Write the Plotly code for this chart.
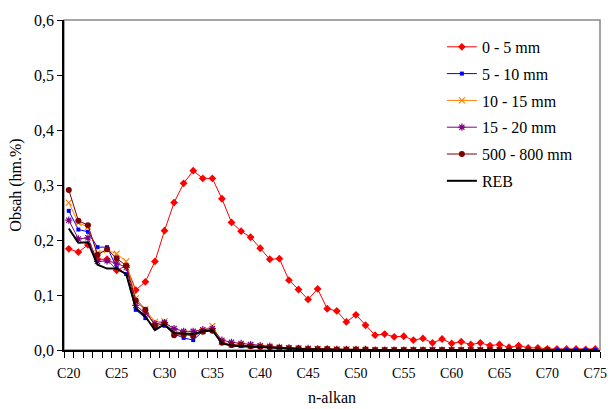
import plotly.graph_objects as go

categories = ["C%d" % n for n in range(20, 76)]
label_categories = ["C%d" % n for n in range(20, 76, 5)]

s_0_5 = [0.184, 0.178, 0.191, 0.165, 0.165, 0.145, 0.153, 0.109, 0.124, 0.161,
         0.217, 0.268, 0.303, 0.326, 0.312, 0.312, 0.275, 0.232, 0.216, 0.205,
         0.185, 0.165, 0.166, 0.127, 0.110, 0.092, 0.111, 0.075, 0.071, 0.051,
         0.064, 0.045, 0.027, 0.029, 0.024, 0.025, 0.018, 0.021, 0.013, 0.020,
         0.012, 0.015, 0.010, 0.013, 0.008, 0.010, 0.005, 0.008, 0.004, 0.004,
         0.002, 0.002, 0.002, 0.002, 0.001, 0.002]
s_5_10 = [0.253, 0.219, 0.215, 0.187, 0.187, 0.150, 0.138, 0.073, 0.058, 0.040,
          0.044, 0.029, 0.022, 0.018, 0.034, 0.036, 0.013, 0.008, 0.007, 0.006,
          0.005, 0.004, 0.003, 0.002, 0.002, 0.001, 0.001, 0.001, 0.0, 0.0,
          0.0, 0.0, 0.0, 0.0, 0.0, 0.0, 0.0, 0.0, 0.0, 0.0,
          0.0, 0.0, 0.0, 0.0, 0.0, 0.0, 0.0, 0.0, 0.0, 0.0,
          0.0, 0.0, 0.0, 0.0, 0.0, 0.0]
s_10_15 = [0.268, 0.231, 0.224, 0.176, 0.182, 0.175, 0.161, 0.094, 0.074, 0.051,
           0.052, 0.035, 0.030, 0.028, 0.035, 0.044, 0.015, 0.010, 0.009, 0.008,
           0.006, 0.005, 0.004, 0.003, 0.003, 0.002, 0.002, 0.001, 0.001, 0.001,
           0.001, 0.0, 0.0, 0.0, 0.0, 0.0, 0.0, 0.0, 0.0, 0.0,
           0.0, 0.0, 0.0, 0.0, 0.0, 0.0, 0.0, 0.0, 0.0, 0.0, 0.0]
s_15_20 = [0.236, 0.202, 0.204, 0.161, 0.162, 0.158, 0.150, 0.081, 0.067, 0.048,
           0.050, 0.039, 0.034, 0.034, 0.037, 0.039, 0.018, 0.014, 0.012, 0.010,
           0.008, 0.007, 0.005, 0.004, 0.003, 0.003, 0.002, 0.002, 0.001, 0.001,
           0.001, 0.001, 0.0, 0.0, 0.0, 0.0, 0.0, 0.0, 0.0, 0.0,
           0.0, 0.0, 0.0, 0.0, 0.0, 0.0, 0.0, 0.0, 0.0, 0.0, 0.0]
s_500_800 = [0.291, 0.235, 0.227, 0.173, 0.183, 0.167, 0.153, 0.090, 0.073, 0.044,
             0.048, 0.027, 0.028, 0.026, 0.033, 0.035, 0.013, 0.009, 0.009, 0.007,
             0.006, 0.005, 0.004, 0.003, 0.003, 0.002, 0.002, 0.002, 0.001, 0.001,
             0.001, 0.001, 0.0, 0.0, 0.0, 0.0, 0.0, 0.0, 0.0, 0.0,
             0.0, 0.0, 0.0, 0.0, 0.0, 0.0, 0.0, 0.0, 0.0, 0.0, 0.0]
s_reb = [0.221, 0.195, 0.196, 0.155, 0.148, 0.148, 0.138, 0.076, 0.061, 0.036,
         0.047, 0.031, 0.030, 0.029, 0.034, 0.036, 0.012, 0.008, 0.007, 0.006,
         0.005, 0.004, 0.003, 0.002, 0.002, 0.001, 0.001, 0.0, 0.0, 0.0,
         0.0, 0.0, 0.0, 0.0, 0.0, 0.0, 0.0, 0.0, 0.0, 0.0,
         0.0, 0.0, 0.0, 0.0, 0.0, 0.0, 0.0, 0.0, 0.0, 0.0,
         0.0, 0.0, 0.0, 0.0, 0.0, 0.0]

series = [
    ("0 - 5 mm", s_0_5, "#FF0000", dict(symbol="diamond", size=6, color="#FF0000"), 1),
    ("5 - 10 mm", s_5_10, "#0000FF", dict(symbol="square", size=4, color="#0000FF"), 1),
    ("10 - 15 mm", s_10_15, "#FF8000", dict(symbol="x-thin-open", size=6, color="#FF8000",
                                             line=dict(color="#FF8000", width=1.2)), 1),
    ("15 - 20 mm", s_15_20, "#800080", dict(symbol="asterisk-open", size=6, color="#800080",
                                             line=dict(color="#800080", width=1.2)), 1),
    ("500 - 800 mm", s_500_800, "#800000", dict(symbol="circle", size=6, color="#800000"), 1),
    ("REB", s_reb, "#000000", None, 2),
]

# categories are placed at their index on a linear axis
cat_pos = {c: i for i, c in enumerate(categories)}

FONT = "'Liberation Serif', 'Times New Roman', 'DejaVu Serif', serif"
fig = go.Figure()
for i, (name, vals, col, mk, w) in enumerate(series):
    fig.add_trace(go.Scatter(
        x=[cat_pos[c] for c in categories[:len(vals)]], y=vals, name=name,
        customdata=categories[:len(vals)],
        hovertemplate="%{customdata}: %{y}<extra>" + name + "</extra>",
        mode="lines+markers" if mk else "lines",
        line=dict(color=col, width=w),
        marker=mk if mk else None,
        legendgroup="g%d" % i,
    ))

fig.update_layout(
    width=612, height=409,
    margin=dict(l=64, r=12, t=20, b=59, autoexpand=False),
    paper_bgcolor="white", plot_bgcolor="white",
    separators=", ",
    font=dict(family=FONT, size=16, color="black"),
    showlegend=True,
    legend=dict(x=0.705, y=0.97, xanchor="left", yanchor="top",
                bgcolor="rgba(0,0,0,0)", font=dict(family=FONT, size=16),
                tracegroupgap=3, itemwidth=30),
    xaxis=dict(
        tickmode="array", tickvals=[cat_pos[c] for c in label_categories],
        ticktext=label_categories,
        ticks="outside", ticklen=9, tickcolor="rgba(0,0,0,0)",
        minor=dict(tick0=-0.5, dtick=1, ticks="outside", ticklen=6,
                   tickcolor="black", showgrid=False),
        tickangle=0, automargin=False,
        showline=True, linecolor="black", linewidth=1.5,
        showgrid=False, zeroline=False, range=[-0.5, len(categories) - 0.5],
        title=dict(text="n-alkan", font=dict(family=FONT, size=16), standoff=12),
        tickfont=dict(family=FONT, size=14),
    ),
    yaxis=dict(
        range=[0, 0.6], dtick=0.1, tick0=0, tickformat=".1f",
        ticks="outside", ticklen=5, tickcolor="black", automargin=False,
        showline=True, linecolor="black", linewidth=1.5,
        showgrid=False, zeroline=False,
        title=dict(text="Obsah (hm.%)", font=dict(family=FONT, size=16), standoff=8),
        tickfont=dict(family=FONT, size=16),
    ),
    shapes=[dict(type="rect", xref="paper", yref="paper", x0=0, y0=0, x1=1, y1=1,
                 line=dict(color="#888888", width=1.5), layer="below")],
)

# remove the browser's default 8px page margin so the 612x409 figure fills the window
fig.write_html("out.html",
               config={"displayModeBar": False},
               post_script="document.body.style.margin='0';"
                           "document.documentElement.style.overflow='hidden';")
